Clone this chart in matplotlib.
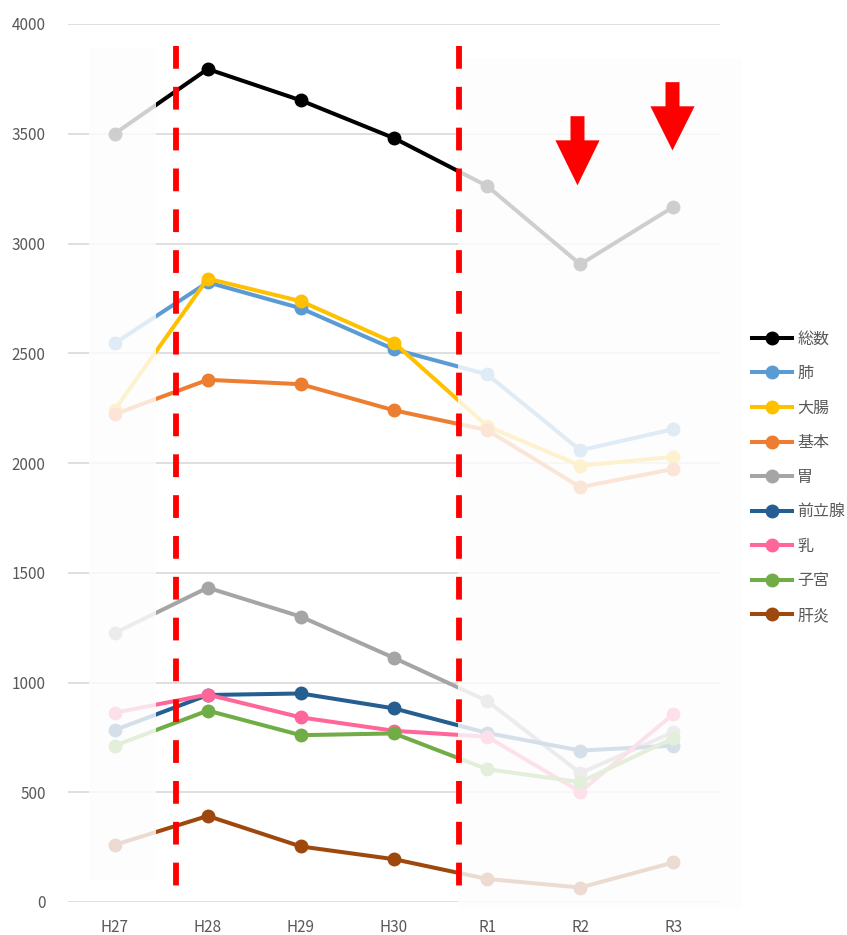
import matplotlib
matplotlib.use("Agg")
import matplotlib.pyplot as plt
from matplotlib.patches import Rectangle, Polygon

plt.rcParams['font.family'] = ['Noto Sans CJK JP', 'DejaVu Sans']

years = ["H27", "H28", "H29", "H30", "R1", "R2", "R3"]
names = ["総数", "肺", "大腸", "基本", "胃", "前立腺", "乳", "子宮", "肝炎"]
colors = ["#000000", "#5b9bd5", "#ffc000", "#ed7d31", "#a5a5a5",
          "#255e91", "#ff6699", "#70ad47", "#9e480e"]

total = [3500, 3795, 3652, 3480, 3262, 2905, 3167]
lung = [2545, 2823, 2705, 2518, 2404, 2058, 2154]
colon = [2242, 2840, 2737, 2548, 2168, 1988, 2028]
basic = [2222, 2379, 2359, 2240, 2150, 1890, 1973]
stomach = [1225, 1432, 1300, 1112, 916, 587, 774]
prostate = [783, 943, 950, 882, 770, 690, 712]
breast = [862, 945, 841, 780, 753, 502, 856]
uterus = [712, 872, 760, 768, 605, 546, 747]
hepatitis = [260, 392, 253, 195, 105, 66, 180]
series = [total, lung, colon, basic, stomach, prostate, breast, uterus, hepatitis]

x = list(range(len(years)))

fig = plt.figure(figsize=(8.47, 9.35), dpi=100)
ax = fig.add_axes([68 / 847, 1 - 902 / 935, 652 / 847, 878 / 935])

for name, vals, c in zip(names, series, colors):
    ax.plot(x, vals, color=c, lw=2.9, marker="o", markersize=9,
            label=name, zorder=3)

ax.set_xlim(-0.5, 6.5)
ax.set_ylim(0, 4000)
ax.set_yticks(range(0, 4001, 500))
ax.set_xticks(x)
ax.set_xticklabels(years)
ax.grid(axis="y", color="#d9d9d9", lw=1.2)
ax.set_axisbelow(True)
for s in ax.spines.values():
    s.set_visible(False)
ax.tick_params(length=0, labelsize=11, labelcolor="#595959", pad=12)
ax.tick_params(axis="y", pad=16)

# faded (out of period) areas
ax.add_patch(Rectangle((-0.27, 100), 0.72, 3795, facecolor="#fdfdfd",
                       alpha=0.82, edgecolor="none", zorder=4))
ax.add_patch(Rectangle((3.69, -30), 3.05, 3875, facecolor="#fdfdfd",
                       alpha=0.82, edgecolor="none", zorder=4, clip_on=False))

# red dashed borders (drawn top -> bottom so the dashes start at the top)
for xv in [0.655, 3.695]:
    ax.plot([xv, xv], [3900, 25], color="#ff0000", lw=4.2,
            dashes=(3.9, 3.1), zorder=5, clip_on=False)

# red down arrows (x center, shaft top, head base, tip)
for xc, top, base, tip in [(4.97, 3580, 3470, 3265), (5.99, 3735, 3625, 3424)]:
    sw, hw = 0.075, 0.237
    pts = [(xc - sw, top), (xc + sw, top), (xc + sw, base), (xc + hw, base),
           (xc, tip), (xc - hw, base), (xc - sw, base)]
    ax.add_patch(Polygon(pts, closed=True, facecolor="#ff0000",
                         edgecolor="none", zorder=6))

leg = fig.legend(loc="upper left", bbox_to_anchor=(746 / 847, 1 - 324 / 935),
                 frameon=False, fontsize=11.5, handlelength=2.5,
                 labelspacing=1.1, handletextpad=0.3, borderaxespad=0)
for t in leg.get_texts():
    t.set_color("#595959")

fig.savefig("out.png", dpi=100)
